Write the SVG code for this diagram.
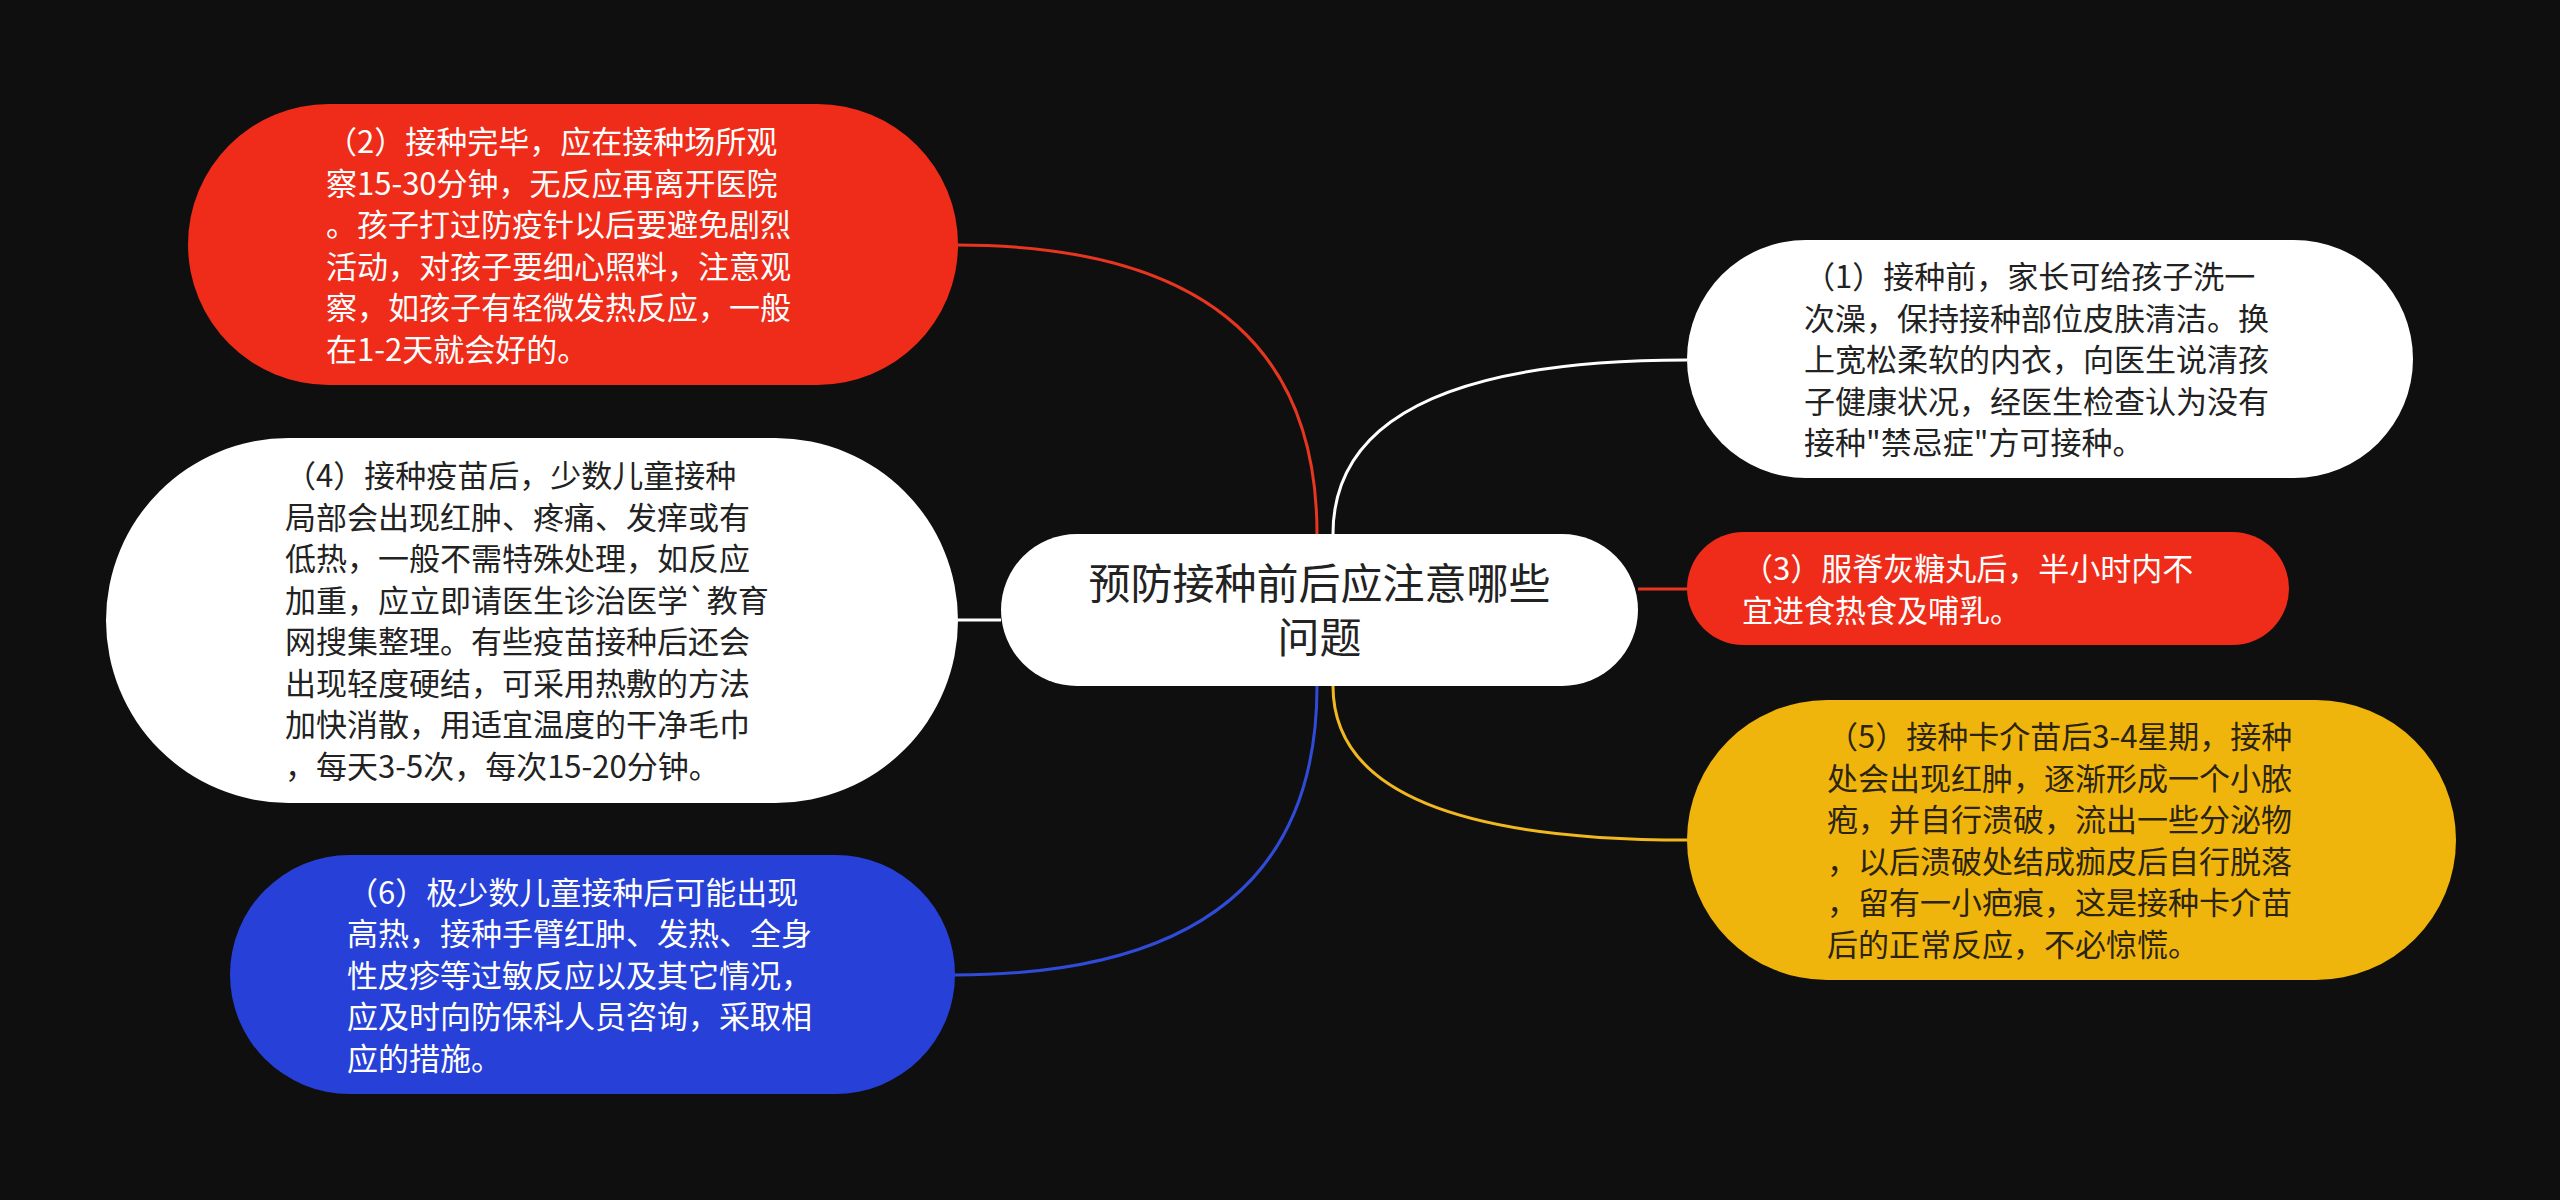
<svg xmlns="http://www.w3.org/2000/svg" width="2560" height="1200" viewBox="0 0 2560 1200">
<style>
.t{font-family:"Noto Sans CJK SC","Noto Sans",sans-serif;font-size:31px}
.w{fill:#ffffff}
.d{fill:#222222}
.y{fill:#2b2410}
.c{font-family:"Noto Sans CJK SC","Noto Sans",sans-serif;font-size:42px;fill:#222222;text-anchor:middle}
.ln{fill:none;stroke-width:3}
</style>
<rect x="0" y="0" width="2560" height="1200" fill="#0f0f0f"/>
<g id="connectors">
<path class="ln" stroke="#e6361f" d="M1317,534 Q1317,245 956,245"/>
<path class="ln" stroke="#ffffff" d="M1001,620 L958,620"/>
<path class="ln" stroke="#2f4bd8" d="M1317,686 Q1317,975 955,975"/>
<path class="ln" stroke="#ffffff" d="M1333,534 Q1333,360 1687,360"/>
<path class="ln" stroke="#e6361f" d="M1638,589 L1687,589"/>
<path class="ln" stroke="#f1b820" d="M1333,686 Q1333,840 1687,840"/>
</g>
<g id="center">
<rect x="1001" y="534" width="637" height="152" rx="76" fill="#ffffff"/>
<text class="c"><tspan x="1319.5" y="599">预防接种前后应注意哪些</tspan><tspan x="1319.5" y="653">问题</tspan></text>
</g>
<g id="node2">
<rect x="188" y="104" width="770" height="281" rx="140.5" fill="#ef2c19"/>
<text class="t w"><tspan x="326" y="153">（2）接种完毕，应在接种场所观</tspan><tspan x="326" y="194.5">察15-30分钟，无反应再离开医院</tspan><tspan x="326" y="236">。孩子打过防疫针以后要避免剧烈</tspan><tspan x="326" y="277.5">活动，对孩子要细心照料，注意观</tspan><tspan x="326" y="319">察，如孩子有轻微发热反应，一般</tspan><tspan x="326" y="360.5">在1-2天就会好的。</tspan></text>
</g>
<g id="node4">
<rect x="106" y="438" width="852" height="365" rx="182.5" fill="#ffffff"/>
<text class="t d"><tspan x="285" y="487">（4）接种疫苗后，少数儿童接种</tspan><tspan x="285" y="528.5">局部会出现红肿、疼痛、发痒或有</tspan><tspan x="285" y="570">低热，一般不需特殊处理，如反应</tspan><tspan x="285" y="611.5">加重，应立即请医生诊治医学`教育</tspan><tspan x="285" y="653">网搜集整理。有些疫苗接种后还会</tspan><tspan x="285" y="694.5">出现轻度硬结，可采用热敷的方法</tspan><tspan x="285" y="736">加快消散，用适宜温度的干净毛巾</tspan><tspan x="285" y="777.5">，每天3-5次，每次15-20分钟。</tspan></text>
</g>
<g id="node6">
<rect x="230" y="855" width="725" height="239" rx="119.5" fill="#2741d8"/>
<text class="t w"><tspan x="347" y="903.5">（6）极少数儿童接种后可能出现</tspan><tspan x="347" y="945">高热，接种手臂红肿、发热、全身</tspan><tspan x="347" y="986.5">性皮疹等过敏反应以及其它情况，</tspan><tspan x="347" y="1028">应及时向防保科人员咨询，采取相</tspan><tspan x="347" y="1069.5">应的措施。</tspan></text>
</g>
<g id="node1">
<rect x="1687" y="240" width="726" height="238" rx="119" fill="#ffffff"/>
<text class="t d"><tspan x="1804" y="288">（1）接种前，家长可给孩子洗一</tspan><tspan x="1804" y="329.5">次澡，保持接种部位皮肤清洁。换</tspan><tspan x="1804" y="371">上宽松柔软的内衣，向医生说清孩</tspan><tspan x="1804" y="412.5">子健康状况，经医生检查认为没有</tspan><tspan x="1804" y="454">接种"禁忌症"方可接种。</tspan></text>
</g>
<g id="node3">
<rect x="1687" y="532" width="602" height="113" rx="56.5" fill="#ef2c19"/>
<text class="t w"><tspan x="1742" y="580">（3）服脊灰糖丸后，半小时内不</tspan><tspan x="1742" y="621.5">宜进食热食及哺乳。</tspan></text>
</g>
<g id="node5">
<rect x="1687" y="700" width="769" height="280" rx="140" fill="#f0b50d"/>
<text class="t y"><tspan x="1827" y="748">（5）接种卡介苗后3-4星期，接种</tspan><tspan x="1827" y="789.5">处会出现红肿，逐渐形成一个小脓</tspan><tspan x="1827" y="831">疱，并自行溃破，流出一些分泌物</tspan><tspan x="1827" y="872.5">，以后溃破处结成痂皮后自行脱落</tspan><tspan x="1827" y="914">，留有一小疤痕，这是接种卡介苗</tspan><tspan x="1827" y="955.5">后的正常反应，不必惊慌。</tspan></text>
</g>
</svg>
